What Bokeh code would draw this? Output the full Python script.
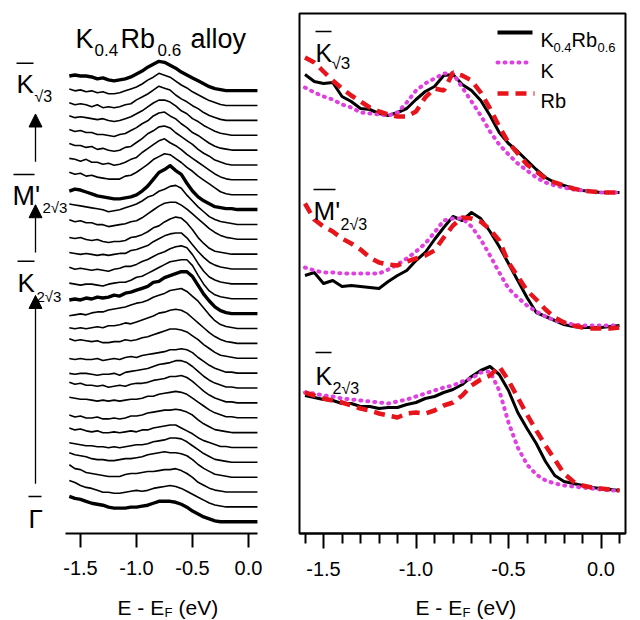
from bokeh.plotting import figure
from bokeh.layouts import row, column
from bokeh.models import Range1d, FixedTicker, PrintfTickFormatter, Label, Arrow, NormalHead
from bokeh.embed import file_html
from bokeh.resources import INLINE

FONT = "Liberation Sans"
MAGENTA = "#e040e0"
RED = "#e8141c"

# ---------------- data: left panel (stacked EDCs, K0.4Rb0.6 alloy) ----------------
E_LEFT = [-1.60, -1.55, -1.50, -1.45, -1.40, -1.35, -1.30, -1.25, -1.20, -1.15, -1.10, -1.05,
          -1.00, -0.95, -0.90, -0.85, -0.80, -0.75, -0.70, -0.65, -0.60, -0.55, -0.50, -0.45,
          -0.40, -0.35, -0.30, -0.25, -0.20, -0.15, -0.10, -0.05, 0.00, 0.05, 0.08]

EDC_00 = [15,16,15,15,14,12,13,11,10, 11,12,14,17,20,24,27,30, 29,26,23,19,16,13,10,7,4,2,1,0, 0,0,0,0,0,0]
EDC_01 = [17,15,16,14,15,13,14,12,12, 13,15,17,19,22,26,29,33, 31,29,25,21,18,14,11,8,5,3,1,0, 0,0,0,0,0,0]
EDC_02 = [18,16,17,16,14,16,13,14,13, 14,16,17,21,24,27,31,35, 33,31,26,22,19,15,12,8,5,3,1,0, 0,0,0,0,0,0]
EDC_03 = [20,18,19,18,17,16,17,15,14, 15,17,19,22,25,29,33,36, 36,34,30,25,22,17,14,10,7,4,2,1, 0,0,0,0,0,0]
EDC_04 = [21,19,20,18,18,16,16,15,14, 16,17,20,23,27,30,35,38, 39,35,32,27,23,18,15,11,7,4,2,1, 0,0,0,0,0,0]
EDC_05 = [22,20,20,18,19,16,17,15,14, 15,18,19,23,27,32,35,39, 40,38,33,29,25,21,16,12,9,5,3,1, 0,0,0,0,0,0]
EDC_06 = [22,21,19,21,18,18,16,17,15, 16,18,21,23,28,32,36,40, 42,38,35,31,26,22,18,14,10,6,3,1, 0,0,0,0,0,0]
EDC_07 = [23,21,22,19,20,18,17,16,16, 16,19,20,23,27,31,36,39, 42,41,37,33,28,24,19,15,11,7,3,1, 0,0,0,0,0,0]
EDC_08 = [19,21,20,18,16,14,13,12,11, 11,12,13,15,19,24,31,38, 41,45,40,36,27,19,13,9,6,3,2,1, 1,0,0,0,0,0]
EDC_09 = [21,20,19,18,17,16,15,13,14, 15,17,19,21,24,28,30,34, 36,39,40,37,30,24,18,13,8,5,3,2, 1,0,0,0,0,0]
EDC_10 = [20,18,19,17,17,15,15,13,14, 15,16,18,19,22,26,30,34, 37,38,38,35,31,26,21,16,11,7,4,2, 1,0,0,0,0,0]
EDC_11 = [17,16,17,15,14,15,13,12,13, 13,14,17,18,20,23,27,29, 33,36,38,37,32,25,17,11,6,3,2,1, 0,0,0,0,0,0]
EDC_12 = [17,16,15,16,15,14,15,14,15, 16,16,19,20,22,24,28,31, 34,36,37,37,32,25,18,12,7,4,2,1, 0,0,0,0,0,0]
EDC_13 = [17,15,16,15,14,15,14,13,15, 16,18,18,20,23,25,28,31, 33,36,38,39,37,30,21,13,7,4,2,1, 0,0,0,0,0,0]
EDC_14 = [16,15,14,15,15,14,13,15,16, 17,17,19,22,23,26,29,32, 35,38,39,40,40,34,24,15,8,4,2,1, 0,0,0,0,0,0]
EDC_15 = [14,15,14,16,15,17,16,17,19, 18,21,22,24,26,28,32,33, 37,39,41,43,43,38,29,20,13,7,3,1, 0,0,0,0,0,0]
EDC_16 = [13,14,15,14,16,17,17,19,20, 21,22,24,26,27,29,32,34, 36,39,40,41,38,33,28,21,14,8,4,2, 1,0,0,0,0,0]
EDC_17 = [16,15,16,15,16,17,16,18,18, 19,21,20,22,24,26,28,31, 32,34,35,34,31,26,21,16,11,7,4,2, 1,0,0,0,0,0]
EDC_18 = [20,18,19,18,17,18,16,16,17, 17,19,18,19,21,22,24,26, 28,30,30,29,27,23,19,14,10,6,3,2, 1,0,0,0,0,0]
EDC_19 = [15,14,15,14,14,15,13,14,15, 14,16,17,16,18,19,20,21, 22,24,24,25,24,21,16,12,8,5,3,1, 1,0,0,0,0,0]
EDC_20 = [15,14,15,15,14,13,14,14,15, 13,16,17,18,19,20,22,24, 25,26,28,28,26,22,17,12,8,5,3,1, 1,0,0,0,0,0]
EDC_21 = [21,19,20,18,18,17,18,16,17, 18,17,19,20,20,21,23,24, 25,27,27,28,26,22,17,12,8,5,3,1, 1,0,0,0,0,0]
EDC_22 = [21,20,19,19,18,17,18,17,18, 17,18,19,19,20,22,22,24, 25,26,27,26,24,20,16,12,8,5,3,1, 1,0,0,0,0,0]
EDC_23 = [18,16,17,15,15,16,14,14,15, 14,15,17,17,18,20,21,22, 23,23,24,23,21,18,13,9,6,3,2,1, 0,0,0,0,0,0]
EDC_24 = [20,18,19,17,16,17,15,15,16, 15,16,17,16,18,18,20,21, 22,23,23,20,17,14,10,7,5,3,1,1, 0,0,0,0,0,0]
EDC_25 = [20,19,18,17,17,16,16,15,16, 15,16,17,18,18,19,21,22, 23,25,25,24,21,17,13,9,6,3,2,1, 0,0,0,0,0,0]
EDC_26 = [25,23,22,21,19,18,18,17,17, 18,19,19,20,21,23,24,25, 26,25,25,24,22,18,13,9,6,3,2,1, 0,0,0,0,0,0]
EDC_27 = [28,24,23,20,19,18,17,16,16, 16,18,19,19,20,21,21,22, 23,23,24,22,19,15,10,7,4,2,1,0, 0,0,0,0,0,0]
EDC_28 = [27,25,22,20,19,17,15,15,14, 14,15,16,17,16,17,19,20, 21,22,21,19,16,13,10,7,4,2,1,0, 0,0,0,0,0,0]
EDC_29 = [26,24,23,21,19,18,17,15,14, 14,14,15,15,16,17,19,21, 21,21,20,18,15,11,8,5,3,1,0,0, 0,0,0,0,0,0]

EDCS = [EDC_00, EDC_01, EDC_02, EDC_03, EDC_04, EDC_05, EDC_06, EDC_07, EDC_08, EDC_09,
        EDC_10, EDC_11, EDC_12, EDC_13, EDC_14, EDC_15, EDC_16, EDC_17, EDC_18, EDC_19,
        EDC_20, EDC_21, EDC_22, EDC_23, EDC_24, EDC_25, EDC_26, EDC_27, EDC_28, EDC_29]
THICK_EDCS = [0, 8, 15, 29]          # K_sqrt3, M'_2sqrt3, K_2sqrt3, Gamma
OFFSET_STEP = 15.24

# ---------------- data: right panel (comparison at three k points) ----------------
E_RIGHT = [-1.60, -1.55, -1.50, -1.45, -1.40, -1.35, -1.30, -1.25, -1.20, -1.15, -1.10, -1.05,
           -1.00, -0.95, -0.90, -0.85, -0.80, -0.75, -0.70, -0.65, -0.60, -0.55, -0.50, -0.45,
           -0.40, -0.35, -0.30, -0.25, -0.20, -0.15, -0.10, -0.05, 0.00, 0.05, 0.10]

KS3_ALLOY = [1.18,1.11,1.09,1.10,0.96,0.91,0.84,0.83,0.79,0.77,0.80,0.84,0.93,1.01,1.06,1.17,1.18,
             1.08,1.02,0.92,0.77,0.60,0.49,0.41,0.32,0.23,0.15,0.10,0.07,0.04,0.02,0.01,0.00,0.00,0.00]
KS3_K = [1.05,1.00,0.96,0.93,0.88,0.85,0.80,0.79,0.78,0.77,0.80,0.90,1.02,1.09,1.14,1.19,1.19,
         1.05,0.91,0.77,0.61,0.48,0.38,0.29,0.22,0.15,0.10,0.07,0.05,0.03,0.02,0.01,0.00,0.00,0.00]
KS3_RB = [1.35,1.30,1.21,1.12,1.04,0.97,0.91,0.85,0.81,0.78,0.76,0.76,0.81,0.95,1.04,1.02,1.20,
          1.17,1.12,1.00,0.84,0.66,0.50,0.39,0.28,0.21,0.14,0.10,0.07,0.04,0.02,0.01,0.00,0.00,0.00]

M2S3_ALLOY = [0.52,0.55,0.44,0.47,0.41,0.42,0.41,0.40,0.39,0.46,0.52,0.57,0.67,0.75,0.88,1.00,1.11,
              1.07,1.15,1.09,0.96,0.81,0.64,0.47,0.30,0.15,0.11,0.07,0.03,0.01,0.00,0.00,0.00,0.01,0.02]
M2S3_K = [0.60,0.57,0.55,0.55,0.54,0.54,0.54,0.54,0.54,0.58,0.63,0.69,0.76,0.84,0.95,1.07,1.09,
          1.09,1.01,0.88,0.72,0.55,0.39,0.30,0.22,0.16,0.11,0.07,0.05,0.03,0.02,0.02,0.02,0.02,0.02]
M2S3_RB = [1.24,1.08,1.01,0.96,0.89,0.84,0.78,0.70,0.65,0.63,0.62,0.66,0.69,0.72,0.77,0.90,1.02,
           1.10,1.09,1.06,0.98,0.87,0.65,0.51,0.37,0.28,0.18,0.10,0.05,0.02,0.00,-0.01,-0.01,-0.01,0.00]

K2S3_ALLOY = [0.95,0.93,0.91,0.90,0.87,0.87,0.84,0.84,0.82,0.83,0.83,0.86,0.88,0.92,0.94,0.98,1.01,
              1.06,1.14,1.20,1.24,1.16,1.00,0.78,0.62,0.47,0.29,0.15,0.09,0.07,0.05,0.03,0.02,0.01,0.00]
K2S3_K = [0.98,0.97,0.95,0.94,0.92,0.91,0.90,0.89,0.88,0.87,0.89,0.91,0.94,0.97,1.00,1.03,1.05,
          1.09,1.12,1.18,1.19,1.00,0.68,0.43,0.26,0.16,0.10,0.07,0.05,0.04,0.03,0.02,0.01,0.00,0.00]
K2S3_RB = [0.98,0.95,0.92,0.90,0.88,0.85,0.82,0.80,0.77,0.75,0.73,0.77,0.78,0.77,0.80,0.85,0.88,
           0.95,1.05,1.11,1.15,1.24,1.10,0.93,0.76,0.60,0.45,0.31,0.17,0.09,0.05,0.03,0.02,0.01,0.00]

GROUP_OFFSETS = [3.41, 2.06, 0.43]   # vertical offsets of the three k-point groups
GROUPS = [(KS3_ALLOY, KS3_K, KS3_RB), (M2S3_ALLOY, M2S3_K, M2S3_RB), (K2S3_ALLOY, K2S3_K, K2S3_RB)]

for arr in EDCS:
    assert len(arr) == len(E_LEFT), len(arr)
for g in GROUPS:
    for arr in g:
        assert len(arr) == len(E_RIGHT), len(arr)

TICKS = [-1.5, -1.0, -0.5, 0.0]
MINOR_TICKS = [-1.6, -1.4, -1.3, -1.2, -1.1, -0.9, -0.8, -0.7, -0.6, -0.4, -0.3, -0.2, -0.1, 0.1]

# pixel helpers for annotation placement (page px -> data)
def lx(px): return -1.5 + (px - 80) / 112.0
def ly(py): return 521.0 - py
def rx(px): return -1.5 + (px - 323) / 185.0
def ry(py): return (533.0 - py) / 100.0


def style_axis(ax, minor):
    ax.ticker = FixedTicker(ticks=TICKS, minor_ticks=MINOR_TICKS if minor else [])
    ax.formatter = PrintfTickFormatter(format="%.1f")
    ax.axis_line_width = 2
    ax.axis_line_color = "black"
    ax.major_tick_line_width = 2
    ax.major_tick_in = 0
    ax.major_tick_out = 15
    ax.minor_tick_line_width = 2
    ax.minor_tick_in = 0
    ax.minor_tick_out = 10 if minor else 0
    ax.major_label_text_font = FONT
    ax.major_label_text_font_size = "20px"
    ax.major_label_text_color = "black"
    ax.major_label_standoff = 13
    ax.axis_label = None


def add_text(p, x, y, text, size):
    p.add_layout(Label(x=x, y=y, text=text, text_font=FONT, text_font_size=f"{size}px",
                       text_color="black", text_baseline="alphabetic", text_align="left"))


TOP_H = 586

# ---------------- left figure (frame: page x 0..290, y 0..533) ----------------
left = figure(width=290, height=TOP_H, x_range=Range1d(lx(0), lx(290)), y_range=Range1d(ly(533), ly(0)),
              output_backend="svg", toolbar_location=None, y_axis_location=None,
              min_border_left=0, min_border_right=0, min_border_top=0, min_border_bottom=TOP_H - 533)
left.outline_line_color = None
left.grid.visible = False
style_axis(left.xaxis[0], minor=False)
left.xaxis[0].major_tick_out = 14
left.xaxis[0].bounds = (-1.634, 0.08)

n = len(EDCS)
for i, h in enumerate(EDCS):
    base = (n - 1 - i) * OFFSET_STEP
    left.line(E_LEFT, [base + v for v in h], line_color="black",
              line_width=3.4 if i in THICK_EDCS else 1.6, line_join="round")

for text, px, py, size in [("K", 75, 26, 27), ("0.4", 94, 37, 17), ("Rb", 120, 26, 27),
                           ("0.6", 157, 37, 17), ("alloy", 190, 26, 27),
                           ("K", 16, 72, 26), ("\u221a3", 34, 85, 16),
                           ("M'", 12, 187, 27), ("2\u221a3", 42, 199, 15),
                           ("K", 17, 276, 26), ("2\u221a3", 36, 290, 15),
                           ("\u0393", 28, 518, 26)]:
    add_text(left, lx(px), ly(py), text, size)

for x0, x1, py in [(16, 33, 51), (13, 34, 165), (17, 34, 254), (28, 41, 495)]:
    left.segment(x0=[lx(x0)], y0=[ly(py)], x1=[lx(x1)], y1=[ly(py)], line_color="black", line_width=1.5)

for y0, y1 in [(152, 103), (245, 196), (482, 289)]:
    left.add_layout(Arrow(end=NormalHead(size=13, fill_color="black", line_color="black", line_width=1),
                          x_start=lx(35), y_start=ly(y0), x_end=lx(35), y_end=ly(y1),
                          line_color="black", line_width=1.3))

# ---------------- right figure (frame: page x 299..625, y 13..533) ----------------
right = figure(width=350, height=TOP_H, x_range=Range1d(rx(299), rx(625)), y_range=Range1d(0, 5.2),
               output_backend="svg", toolbar_location=None, y_axis_location=None,
               min_border_left=9, min_border_right=15, min_border_top=13, min_border_bottom=TOP_H - 533)
right.outline_line_color = "black"
right.outline_line_width = 2
right.grid.visible = False
style_axis(right.xaxis[0], minor=True)

for off, (alloy, kk, rb) in zip(GROUP_OFFSETS, GROUPS):
    right.line(E_RIGHT, [off + v for v in alloy], line_color="black", line_width=3, line_join="round")
    right.line(E_RIGHT, [off + v for v in kk], line_color=MAGENTA, line_width=4,
               line_dash="1 6", line_cap="round")
    right.line(E_RIGHT, [off + v for v in rb], line_color=RED, line_width=4.5, line_dash="11 7")

# legend samples
right.segment(x0=[rx(497)], y0=[ry(32)], x1=[rx(532)], y1=[ry(32)], line_color="black", line_width=4)
right.segment(x0=[rx(497)], y0=[ry(62)], x1=[rx(532)], y1=[ry(62)], line_color=MAGENTA, line_width=4,
              line_dash="1 6", line_cap="round")
right.segment(x0=[rx(497)], y0=[ry(93)], x1=[rx(534)], y1=[ry(93)], line_color=RED, line_width=4.5,
              line_dash="11 7")

for text, px, py, size in [("K", 315, 52, 25), ("\u221a3", 331, 63, 17),
                           ("M'", 313, 210, 26), ("2\u221a3", 340, 224, 16),
                           ("K", 315, 375, 25), ("2\u221a3", 332, 388, 16),
                           ("K", 540, 39, 20), ("0.4", 553, 47, 13), ("Rb", 571, 39, 20), ("0.6", 597, 47, 13),
                           ("K", 540, 70, 20), ("Rb", 540, 100, 20)]:
    add_text(right, rx(px), ry(py), text, size)

for x0, x1, py in [(315, 331, 31), (313, 335, 189), (315, 331, 352)]:
    right.segment(x0=[rx(x0)], y0=[ry(py)], x1=[rx(x1)], y1=[ry(py)], line_color="black", line_width=1.5)

# ---------------- bottom strip with the axis titles (page y TOP_H..620) ----------------
strip = figure(width=640, height=620 - TOP_H, x_range=Range1d(0, 640), y_range=Range1d(620, TOP_H),
               output_backend="svg", toolbar_location=None, x_axis_location=None, y_axis_location=None,
               min_border_left=0, min_border_right=0, min_border_top=0, min_border_bottom=0)
strip.outline_line_color = None
strip.grid.visible = False
for text, px, py, size in [("E - E", 117, 607, 21), ("F", 164, 612, 13), ("(eV)", 178, 607, 21),
                           ("E - E", 415, 607, 21), ("F", 462, 612, 13), ("(eV)", 476, 607, 21)]:
    add_text(strip, px, py, text, size)

layout = column(row(left, right), strip)
open("out.html", "w").write(file_html(layout, INLINE))
